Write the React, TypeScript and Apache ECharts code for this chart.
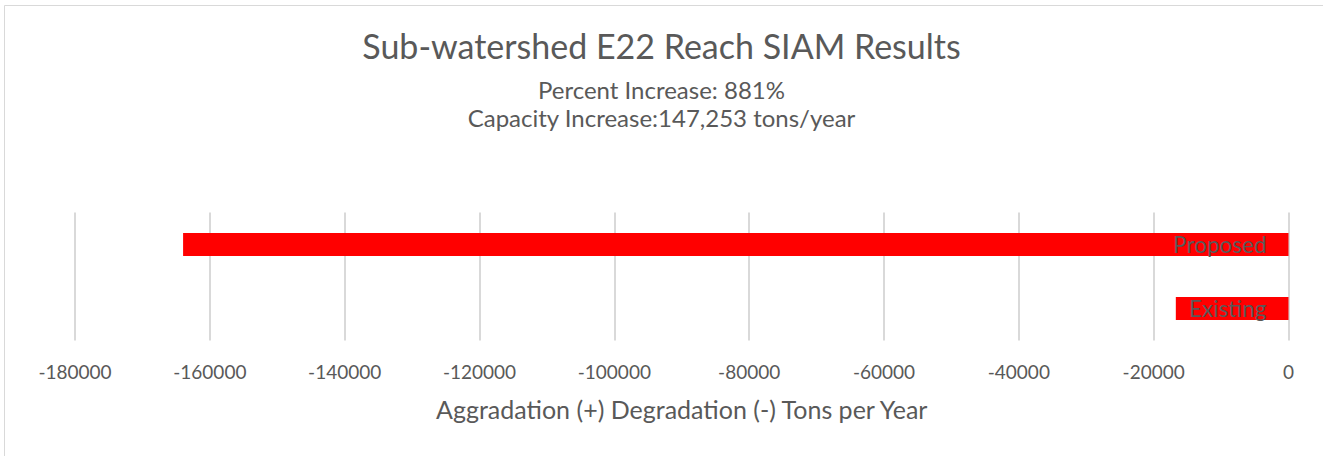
import React, { useEffect, useRef } from "react";
import * as echarts from "echarts";

const categories = ["Existing", "Proposed"];
const values = [-16714, -163967];
const axisMin = -180000;
const axisMax = 0;
const axisInterval = 20000;
const titleText = "Sub-watershed E22 Reach SIAM Results";
const subtitle1 = "Percent Increase: 881%";
const subtitle2 = "Capacity Increase:147,253 tons/year";
const xAxisTitle = "Aggradation (+) Degradation (-) Tons per Year";

const FONT = "Lato";
const GRAY = "#595959";

export default function App() {
  const ref = useRef<HTMLDivElement>(null);
  useEffect(() => {
    if (!ref.current) return;
    const chart = echarts.init(ref.current, null, { renderer: "svg" });
    chart.setOption({
      animation: false,
      backgroundColor: "#ffffff",
      textStyle: { fontFamily: FONT },
      title: [
        {
          text: titleText,
          left: "center",
          top: 23,
          textStyle: { fontFamily: FONT, fontSize: 34, fontWeight: "normal", color: GRAY },
        },
        {
          text: subtitle1,
          left: "center",
          top: 72,
          textStyle: { fontFamily: FONT, fontSize: 24, fontWeight: "normal", color: GRAY },
        },
        {
          text: subtitle2,
          left: "center",
          top: 100,
          textStyle: { fontFamily: FONT, fontSize: 24, fontWeight: "normal", color: GRAY },
        },
      ],
      graphic: [
        {
          type: "rect",
          left: 2,
          top: 3,
          shape: { width: 1340, height: 470 },
          style: { fill: "none", stroke: "#d9d9d9", lineWidth: 1 },
          silent: true,
        },
      ],
      grid: { left: 75, right: 34.5, top: 212.5, height: 128, containLabel: false },
      xAxis: {
        type: "value",
        min: axisMin,
        max: axisMax,
        interval: axisInterval,
        name: xAxisTitle,
        nameLocation: "middle",
        nameGap: 56,
        nameTextStyle: { fontFamily: FONT, fontSize: 25, color: GRAY },
        axisLine: { show: false },
        axisTick: { show: false },
        axisLabel: {
          fontFamily: FONT,
          fontSize: 19,
          color: GRAY,
          margin: 21,
          formatter: (v: number) => String(v),
        },
        splitLine: { show: true, lineStyle: { color: "#d9d9d9", width: 2 } },
      },
      yAxis: {
        type: "category",
        data: categories,
        axisLine: { show: false },
        axisTick: { show: false },
        axisLabel: { show: false },
        splitLine: { show: false },
      },
      series: [
        {
          type: "bar",
          data: values,
          barWidth: 23,
          itemStyle: { color: "#ff0000" },
          label: {
            show: true,
            position: "insideRight",
            distance: 22,
            formatter: (p: any) => p.name,
            fontFamily: FONT,
            fontSize: 22.5,
            color: GRAY,
          },
        },
      ],
    });
    return () => chart.dispose();
  }, []);
  return (
    <div
      ref={ref}
      style={{ position: "absolute", left: 0, top: 0, width: 1323, height: 456 }}
    />
  );
}
